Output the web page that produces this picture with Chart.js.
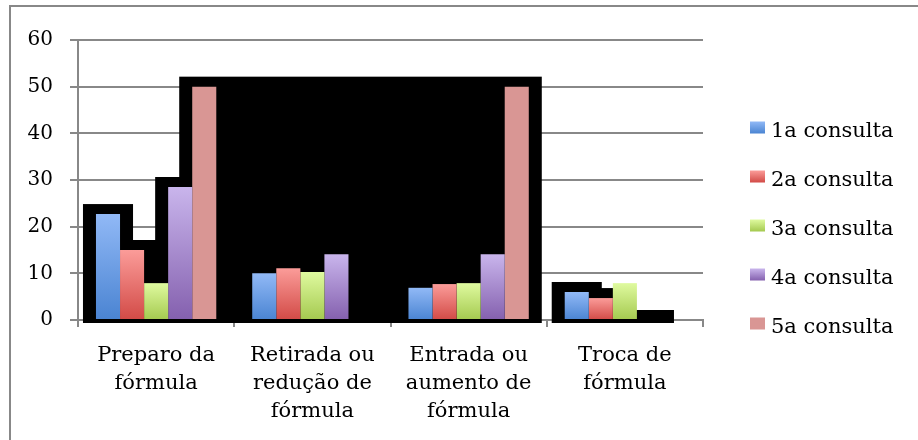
<!DOCTYPE html>
<html>
<head>
<meta charset="utf-8">
<script src="https://cdn.jsdelivr.net/npm/chart.js@4/dist/chart.umd.min.js"></script>
<style>
  body { margin: 0; background: #fff; }
  #wrap { width: 918px; height: 440px; }
</style>
</head>
<body>
<div id="wrap"><canvas id="chart" width="918" height="440"></canvas></div>
<script>
// categories (multi-line labels)
const categories = [
  ['Preparo da', 'fórmula'],
  ['Retirada ou', 'redução de', 'fórmula'],
  ['Entrada ou', 'aumento de', 'fórmula'],
  ['Troca de', 'fórmula']
];
const seriesNames = ['1a consulta', '2a consulta', '3a consulta', '4a consulta', '5a consulta'];
const consulta1 = [22.7, 10, 6.9, 6];
const consulta2 = [15, 11.1, 7.7, 4.7];
const consulta3 = [7.9, 10.3, 7.9, 7.9];
const consulta4 = [28.5, 14.1, 14.1, 0];
const consulta5 = [50, 0, 50, 0];
const yTicks = [0, 10, 20, 30, 40, 50, 60];

const FONT = '"DejaVu Serif", serif';
const GRID = '#888888';

function grad(top, bottom) {
  return (c) => {
    const chart = c.chart;
    if (!chart.chartArea || c.type !== 'data') return bottom;
    const y = chart.scales.y;
    const y0 = y.getPixelForValue(0);
    const y1 = y.getPixelForValue(c.raw);
    if (y0 - y1 < 1) return bottom;
    const g = chart.ctx.createLinearGradient(0, y1, 0, y0);
    g.addColorStop(0, top);
    g.addColorStop(1, bottom);
    return g;
  };
}

const colours = [
  ['#91b9f6', '#4a84d2'],
  ['#fb9c99', '#d24a46'],
  ['#dffa9f', '#a4c94f'],
  ['#c9b5ec', '#8460ae'],
  ['#d99694', '#d99694']
];

// black shadow blocks behind bars
const shadowPlugin = {
  id: 'shadow',
  beforeDatasetsDraw(chart) {
    const ctx = chart.ctx;
    const base = chart.scales.y.getPixelForValue(0);
    ctx.save();
    ctx.fillStyle = '#000';
    chart.data.datasets.forEach((ds, di) => {
      const bars = chart.getDatasetMeta(di).data;
      if (ds.shadow === 'bar') {
        bars.forEach((bar) => {
          const w = bar.width;
          ctx.fillRect(bar.x - w / 2 - 13, bar.y - 10, w + 26, base + 3 - (bar.y - 10));
        });
      } else if (ds.shadow === 'span') {
        const on = bars.filter((b, i) => ds.data[i] > 0);
        if (!on.length) return;
        const first = on[0], last = on[on.length - 1];
        const top = Math.min(...on.map(b => b.y)) - 10;
        const l = first.x - first.width / 2 - 13;
        const r = last.x + last.width / 2 + 13;
        ctx.fillRect(l, top, r - l, base + 3 - top);
      }
    });
    ctx.restore();
  }
};

// frame + legend
const framePlugin = {
  id: 'frame',
  beforeDraw(chart) {
    const ctx = chart.ctx;
    ctx.save();
    ctx.strokeStyle = GRID;
    ctx.lineWidth = 2;
    ctx.beginPath();
    ctx.moveTo(10, 440);
    ctx.lineTo(10, 6);
    ctx.lineTo(918, 6);
    ctx.stroke();
    ctx.restore();
  },
  afterDraw(chart) {
    const ctx = chart.ctx;
    const x0 = chart.chartArea.right + 47;
    ctx.save();
    ctx.font = '21px ' + FONT;
    ctx.fillStyle = '#000';
    ctx.textBaseline = 'alphabetic';
    chart.data.datasets.forEach((ds, i) => {
      const top = 121.5 + 49 * i;
      const g = ctx.createLinearGradient(0, top, 0, top + 12);
      g.addColorStop(0, colours[i][0]);
      g.addColorStop(1, colours[i][1]);
      ctx.fillStyle = g;
      ctx.fillRect(x0, top, 15, 12);
      ctx.fillStyle = '#000';
      ctx.fillText(ds.label, x0 + 21, top + 15.2);
    });
    ctx.restore();
  }
};

const seriesData = [consulta1, consulta2, consulta3, consulta4, consulta5];
const shadows = ['bar', 'bar', null, 'bar', 'span'];

new Chart('chart', {
  type: 'bar',
  data: {
    labels: categories,
    datasets: seriesData.map((d, i) => ({
      label: seriesNames[i],
      data: d,
      backgroundColor: grad(colours[i][0], colours[i][1]),
      borderWidth: 0,
      shadow: shadows[i],
      categoryPercentage: 0.77,
      barPercentage: 1
    }))
  },
  options: {
    responsive: false,
    animation: false,
    layout: { padding: { left: 10, top: 40, right: 215, bottom: 0 } },
    plugins: {
      legend: { display: false },
      tooltip: { enabled: false }
    },
    scales: {
      x: {
        afterFit(scale) { scale.height = 120; },
        grid: { drawOnChartArea: false, offset: true, tickLength: 7, color: GRID, lineWidth: 2 },
        border: { display: true, color: GRID, width: 2 },
        ticks: {
          color: '#000',
          font: { family: FONT, size: 21, lineHeight: 1.333 },
          padding: 15,
          maxRotation: 0,
          autoSkip: false
        }
      },
      y: {
        min: 0,
        max: 60,
        afterFit(scale) { scale.width = 68; },
        afterBuildTicks(scale) { scale.ticks = yTicks.map(v => ({ value: v })); },
        grid: { color: GRID, lineWidth: 2, tickLength: 8 },
        border: { display: true, color: GRID, width: 2 },
        ticks: {
          color: '#000',
          font: { family: FONT, size: 20 },
          padding: 17
        }
      }
    }
  },
  plugins: [shadowPlugin, framePlugin]
});
</script>
</body>
</html>
